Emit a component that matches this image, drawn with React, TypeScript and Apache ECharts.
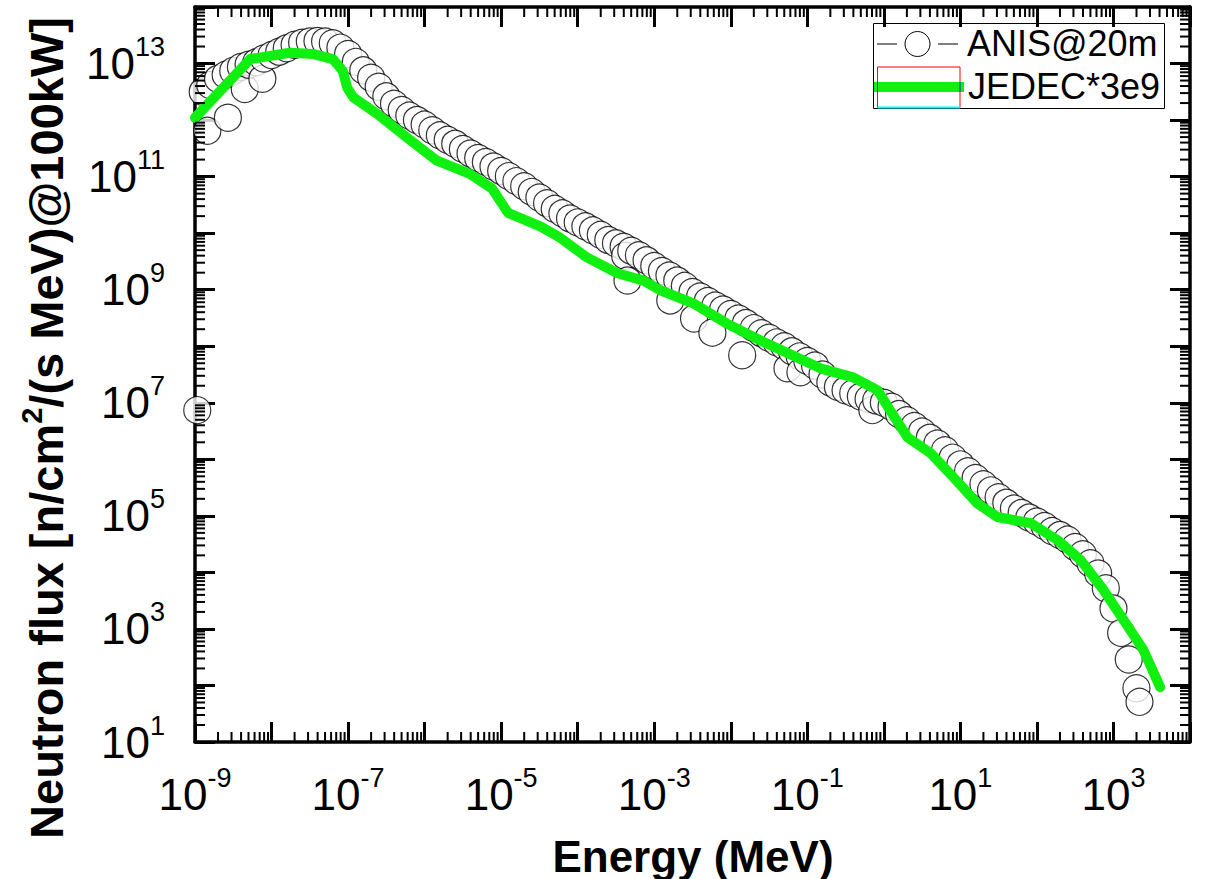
import React, { useEffect, useRef } from 'react';
import * as echarts from 'echarts';

// ---- data (energy in MeV, flux in n/cm^2/(s MeV) @100kW) ----
const xLabelExponents = [-9, -7, -5, -3, -1, 1, 3];
const yLabelExponents = [1, 3, 5, 7, 9, 11, 13];

const anisEnergy = [
  1.07e-9, 1.26e-9, 1.45e-9, 1.58e-9, 2.0e-9, 2.51e-9, 2.69e-9, 3.16e-9, 3.98e-9, 4.47e-9,
  5.01e-9, 6.31e-9, 7.59e-9, 7.94e-9, 1.0e-8, 1.26e-8, 1.58e-8, 2.0e-8, 2.51e-8, 3.16e-8,
  3.98e-8, 5.01e-8, 6.31e-8, 7.94e-8, 1.0e-7, 1.26e-7, 1.58e-7, 2.0e-7, 2.51e-7, 3.16e-7,
  3.98e-7, 5.01e-7, 6.31e-7, 7.94e-7, 1.0e-6, 1.26e-6, 1.58e-6, 2.0e-6, 2.51e-6, 3.16e-6,
  3.98e-6, 5.01e-6, 6.31e-6, 7.94e-6, 1.0e-5, 1.26e-5, 1.58e-5, 2.0e-5, 2.51e-5, 3.16e-5,
  3.98e-5, 5.01e-5, 6.31e-5, 7.94e-5, 1.0e-4, 1.26e-4, 1.58e-4, 2.0e-4, 2.51e-4, 3.16e-4,
  3.98e-4, 4.17e-4, 4.47e-4, 5.01e-4, 6.31e-4, 7.94e-4, 1.0e-3, 1.26e-3, 1.58e-3, 1.62e-3,
  2.0e-3, 2.51e-3, 3.16e-3, 3.31e-3, 3.98e-3, 5.01e-3, 5.75e-3, 6.31e-3, 7.94e-3, 1.0e-2,
  1.26e-2, 1.41e-2, 1.58e-2, 2.0e-2, 2.51e-2, 3.16e-2, 3.98e-2, 5.01e-2, 5.5e-2, 6.31e-2,
  7.94e-2, 8.13e-2, 0.1, 0.126, 0.158, 0.2, 0.251, 0.316, 0.398, 0.501,
  0.631, 0.708, 0.794, 1.0, 1.26, 1.58, 2.0, 2.51, 3.16, 3.98,
  5.01, 6.31, 7.94, 10, 12.6, 15.8, 20, 25.1, 31.6, 39.8,
  50.1, 63.1, 79.4, 100, 126, 158, 200, 251, 316, 398,
  501, 631, 794, 1000, 1259, 1585, 1995, 2188,
];

const anisFlux = [
  7.41e6, 3.16e12, 6.46e11, 4.17e12, 5.37e12, 6.31e12, 1.1e12, 7.41e12, 8.71e12, 3.55e12,
  9.55e12, 1.05e13, 5.37e12, 1.23e13, 1.41e13, 1.62e13, 1.86e13, 2.14e13, 2.34e13, 2.45e13,
  2.51e13, 2.45e13, 2.29e13, 1.91e13, 1.48e13, 1.07e13, 7.59e12, 5.62e12, 3.89e12, 2.63e12,
  1.95e12, 1.51e12, 1.2e12, 1.0e12, 8.32e11, 6.61e11, 5.37e11, 4.47e11, 3.8e11, 3.09e11,
  2.57e11, 2.14e11, 1.82e11, 1.51e11, 1.26e11, 1.02e11, 8.32e10, 6.76e10, 5.37e10, 4.27e10,
  3.39e10, 2.69e10, 2.24e10, 1.82e10, 1.55e10, 1.32e10, 1.12e10, 9.33e9, 7.59e9, 6.61e9,
  5.75e9, 3.98e9, 1.45e9, 4.9e9, 4.07e9, 3.31e9, 2.63e9, 2.14e9, 1.78e9, 6.46e8,
  1.45e9, 1.17e9, 9.12e8, 3.09e8, 7.59e8, 6.31e8, 1.74e8, 5.25e8, 4.47e8, 3.72e8,
  3.09e8, 6.92e7, 2.57e8, 2.09e8, 1.7e8, 1.41e8, 1.17e8, 1.0e8, 4.07e7, 8.13e7,
  6.61e7, 3.47e7, 5.5e7, 4.57e7, 3.16e7, 2.29e7, 1.91e7, 1.66e7, 1.48e7, 1.29e7,
  1.17e7, 7.41e6, 1.1e7, 1.0e7, 8.51e6, 6.31e6, 4.9e6, 3.89e6, 3.09e6, 2.4e6,
  1.91e6, 1.45e6, 1.07e6, 8.13e5, 6.17e5, 4.68e5, 3.63e5, 2.82e5, 2.14e5, 1.7e5,
  1.35e5, 1.12e5, 9.33e4, 7.94e4, 6.61e4, 5.37e4, 4.57e4, 3.8e4, 2.82e4, 2.09e4,
  1.45e4, 9.55e3, 5.25e3, 2.29e3, 851, 288, 89.1, 51.3,
];

const jedecEnergy = [
  1e-9, 5.25e-9, 1.74e-8, 3.47e-8, 6.31e-8, 8.51e-8, 9.77e-8, 1.17e-7, 2.4e-7, 5.89e-7,
  1.45e-6, 3.89e-6, 7.59e-6, 1.23e-5, 3.24e-5, 5.89e-5, 1.32e-4, 3.31e-4, 7.24e-4, 1.2e-3,
  3.24e-3, 8.91e-3, 2.45e-2, 0.148, 0.398, 0.832, 1.2, 2.04, 4.07, 8.13,
  16.6, 30.2, 83.2, 186, 372, 741, 1349, 2455, 4074,
];

const jedecFlux = [
  1.1e12, 1.2e13, 1.55e13, 1.48e13, 1.2e13, 7.41e12, 3.72e12, 2.51e12, 1.29e12, 4.9e11,
  1.91e11, 1.12e11, 6.17e10, 2.29e10, 1.32e10, 8.32e9, 3.72e9, 1.95e9, 1.45e9, 9.77e8,
  5.75e8, 2.51e8, 1.26e8, 4.07e7, 2.82e7, 1.66e7, 7.41e6, 2.45e6, 1.29e6, 4.79e5,
  1.66e5, 9.55e4, 7.41e4, 3.72e4, 1.66e4, 4.9e3, 1.45e3, 427, 93.3,
];

const seriesNames = ['ANIS@20m', 'JEDEC*3e9'];
const xTitle = 'Energy (MeV)';

// axis extents in decades
const X_MIN = -9;
const X_MAX = 4;
const Y_MIN = 1;
const Y_MAX = 14;

const FONT = '"Liberation Sans", Arial, Helvetica, sans-serif';
const GREEN = '#10f010';

function buildOption(): any {
  const lg = Math.log10;
  const anisData = anisEnergy.map((e, i) => [lg(e), lg(anisFlux[i])]);
  const jedecData = jedecEnergy.map((e, i) => [lg(e), lg(jedecFlux[i])]);

  const xMinor: number[][] = [];
  for (let n = X_MIN; n < X_MAX; n++) {
    for (let k = 2; k <= 9; k++) xMinor.push([n + lg(k), Y_MIN]);
  }
  const yMinor: number[][] = [];
  for (let n = Y_MIN; n < Y_MAX; n++) {
    for (let k = 2; k <= 9; k++) yMinor.push([X_MIN, n + lg(k)]);
  }

  const labelFmt = (list: number[]) => (v: number) => {
    const r = Math.round(v);
    return list.includes(r) ? `{b|10}{s|${r}}` : '';
  };
  const rich = {
    b: { fontSize: 44, lineHeight: 60, fontFamily: FONT, color: '#000' },
    s: { fontSize: 27, lineHeight: 27, fontFamily: FONT, color: '#000', verticalAlign: 'top' },
  };

  const axisLine = { show: true, onZero: false, lineStyle: { color: '#000', width: 3.5 } };
  const majorTick = { show: true, inside: true, length: 20, lineStyle: { color: '#000', width: 3 } };

  const minorTickSeries = (isX: boolean) => ({
    type: 'custom',
    silent: true,
    z: 10,
    clip: false,
    data: isX ? xMinor : yMinor,
    renderItem: (params: any, api: any) => {
      const v = isX ? api.value(0) : api.value(1);
      const L = 10;
      const st = { stroke: '#000', lineWidth: 2 };
      if (isX) {
        const b = api.coord([v, Y_MIN]);
        const t = api.coord([v, Y_MAX]);
        return {
          type: 'group',
          children: [
            { type: 'line', shape: { x1: b[0], y1: b[1], x2: b[0], y2: b[1] - L }, style: st },
            { type: 'line', shape: { x1: t[0], y1: t[1], x2: t[0], y2: t[1] + L }, style: st },
          ],
        };
      }
      const l = api.coord([X_MIN, v]);
      const r = api.coord([X_MAX, v]);
      return {
        type: 'group',
        children: [
          { type: 'line', shape: { x1: l[0], y1: l[1], x2: l[0] + L, y2: l[1] }, style: st },
          { type: 'line', shape: { x1: r[0], y1: r[1], x2: r[0] - L, y2: r[1] }, style: st },
        ],
      };
    },
  });

  return {
    animation: false,
    backgroundColor: '#fff',
    grid: { left: 195, right: 16, top: 7, bottom: 137 },
    xAxis: [
      {
        type: 'value', min: X_MIN, max: X_MAX, interval: 1, position: 'bottom',
        axisLine, axisTick: majorTick, splitLine: { show: false },
        axisLabel: { formatter: labelFmt(xLabelExponents), rich, margin: 22 },
      },
      {
        type: 'value', min: X_MIN, max: X_MAX, interval: 1, position: 'top',
        axisLine, axisTick: majorTick, splitLine: { show: false }, axisLabel: { show: false },
      },
    ],
    yAxis: [
      {
        type: 'value', min: Y_MIN, max: Y_MAX, interval: 1, position: 'left',
        axisLine, axisTick: majorTick, splitLine: { show: false },
        axisLabel: { formatter: labelFmt(yLabelExponents), rich, margin: 30 },
      },
      {
        type: 'value', min: Y_MIN, max: Y_MAX, interval: 1, position: 'right',
        axisLine, axisTick: majorTick, splitLine: { show: false }, axisLabel: { show: false },
      },
    ],
    series: [
      {
        name: seriesNames[0],
        type: 'scatter',
        data: anisData,
        symbol: 'circle',
        symbolSize: 27,
        itemStyle: { color: '#fff', borderColor: '#000', borderWidth: 1.2 },
        emphasis: { disabled: true },
        z: 2,
      },
      {
        name: seriesNames[1],
        type: 'line',
        data: jedecData,
        showSymbol: false,
        symbol: 'none',
        lineStyle: { color: GREEN, width: 10, cap: 'round', join: 'round' },
        emphasis: { disabled: true },
        z: 3,
      },
      minorTickSeries(true),
      minorTickSeries(false),
    ],
    graphic: [
      {
        type: 'text', x: 693, y: 856, z: 20,
        style: {
          text: xTitle, fontSize: 44, fontWeight: 'bold', fontFamily: FONT, fill: '#000',
          align: 'center', verticalAlign: 'middle',
        },
      },
      {
        type: 'text', x: 46, y: 428, rotation: Math.PI / 2, z: 20,
        style: {
          text: '{a|Neutron flux [n/cm}{p|2}{a|/(s MeV)@100kW]}',
          align: 'center', verticalAlign: 'middle', fill: '#000',
          rich: {
            a: { fontSize: 47, fontWeight: 'bold', fontFamily: FONT, lineHeight: 58, fill: '#000', color: '#000' },
            p: { fontSize: 29, fontWeight: 'bold', fontFamily: FONT, lineHeight: 29, verticalAlign: 'top', fill: '#000', color: '#000' },
          },
        },
      },
      // legend
      {
        type: 'group', z: 30,
        children: [
          { type: 'rect', shape: { x: 873.5, y: 23.5, width: 291, height: 85 }, style: { fill: 'none', stroke: '#000', lineWidth: 1 } },
          { type: 'line', shape: { x1: 877, y1: 44, x2: 897, y2: 44 }, style: { stroke: '#000', lineWidth: 1 } },
          { type: 'line', shape: { x1: 938, y1: 44, x2: 958, y2: 44 }, style: { stroke: '#000', lineWidth: 1 } },
          { type: 'circle', shape: { cx: 917.5, cy: 44, r: 12.5 }, style: { fill: '#fff', stroke: '#000', lineWidth: 1 } },
          {
            type: 'text', x: 967, y: 43,
            style: { text: seriesNames[0], fontSize: 36, fontFamily: FONT, fill: '#000', align: 'left', verticalAlign: 'middle' },
          },
          { type: 'rect', shape: { x: 877.5, y: 67, width: 82.5, height: 40.5 }, style: { fill: 'none', stroke: '#ff0000', lineWidth: 1 } },
          { type: 'line', shape: { x1: 877.5, y1: 107.5, x2: 960, y2: 107.5 }, style: { stroke: '#00ffff', lineWidth: 2 } },
          { type: 'line', shape: { x1: 874, y1: 87, x2: 964, y2: 87 }, style: { stroke: GREEN, lineWidth: 10 } },
          { type: 'line', shape: { x1: 877.5, y1: 82, x2: 877.5, y2: 92 }, style: { stroke: '#2020d0', lineWidth: 1 } },
          { type: 'line', shape: { x1: 960, y1: 82, x2: 960, y2: 92 }, style: { stroke: '#2020d0', lineWidth: 1 } },
          {
            type: 'text', x: 968, y: 86,
            style: { text: seriesNames[1], fontSize: 36, fontFamily: FONT, fill: '#000', align: 'left', verticalAlign: 'middle' },
          },
        ],
      },
    ],
  };
}

export default function App() {
  const ref = useRef<HTMLDivElement>(null);
  useEffect(() => {
    if (!ref.current) return;
    const chart = echarts.init(ref.current, undefined, { renderer: 'svg' });
    chart.setOption(buildOption());
    return () => chart.dispose();
  }, []);
  return (
    <div
      ref={ref}
      style={{ position: 'fixed', left: 0, top: 0, width: 1206, height: 879, background: '#fff' }}
    />
  );
}
